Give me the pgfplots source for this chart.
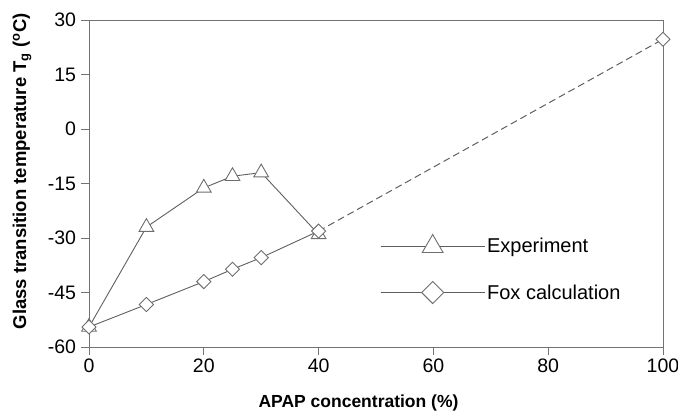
\documentclass[border=0pt]{standalone}
\usepackage{fontspec}
\setmainfont{Liberation Sans}
\usepackage{pgfplots}
\pgfplotsset{compat=1.18}

\definecolor{linegray}{RGB}{95,95,95}
\definecolor{markgray}{RGB}{110,110,110}
\definecolor{axisgray}{RGB}{115,115,115}

\begin{document}
\begin{tikzpicture}
\path[use as bounding box] (-89pt,-69pt) rectangle (589pt,347pt);
\begin{axis}[
    scale only axis,
    width=574pt, height=327pt,
    at={(0,0)}, anchor=south west,
    xmin=0, xmax=100, ymin=-60, ymax=30,
    xtick={0,20,...,100}, ytick={-60,-45,...,30},
    xtick pos=bottom, ytick pos=left,
    tick align=outside,
    major tick length=8pt,
    axis line style={axisgray, line width=0.8pt},
    major tick style={axisgray, line width=0.8pt},
    tick label style={font=\fontsize{19.5}{22}\selectfont, black},
    yticklabel style={xshift=-1.5pt},
    /pgf/number format/assume math mode=true,
    xlabel={APAP concentration (\%)},
    ylabel={Glass transition temperature T\textsubscript{g} (\textsuperscript{o}C)},
    xlabel style={font=\bfseries\fontsize{17.5}{20}\selectfont,
        at={(axis description cs:0.4695,-0.1713)}, anchor=center},
    ylabel style={font=\bfseries\fontsize{18.5}{21}\selectfont,
        at={(axis description cs:-0.1167,0.537)}, anchor=center},
    legend style={at={(axis description cs:0.507,0.2385)}, anchor=west, draw=none, fill=none,
        font=\fontsize{20}{23}\selectfont, row sep=25pt, inner sep=0pt,
        nodes={inner sep=2pt}},
    legend cell align=left,
    legend image code/.code={\draw[#1, mark repeat=2, mark phase=2]
        plot coordinates {(0pt,0pt)(52pt,0pt)(104pt,0pt)};},
]
% Experiment
\addplot[linegray, line width=0.9pt, mark=triangle*, mark size=8.5pt,
    mark options={fill=white, draw=markgray, solid}, forget plot] coordinates {
    (0,-54.5) (10,-27) (20,-16.2) (25,-13) (30,-12) (40,-29)
};
% Fox calculation (measured range)
\addplot[linegray, line width=0.9pt, mark=square*, mark size=5pt,
    mark options={fill=white, draw=markgray, rotate=45, solid}, forget plot] coordinates {
    (0,-54.5) (10,-48.3) (20,-42) (25,-38.6) (30,-35.4) (40,-28.1)
};
% Fox calculation extrapolated
\addplot[linegray, line width=1pt, dash pattern=on 7pt off 4pt, forget plot] coordinates {
    (40,-28.1) (100,24.7)
};
\addplot[only marks, mark=square*, mark size=5pt,
    mark options={fill=white, draw=markgray, line width=0.9pt, rotate=45}, forget plot] coordinates {
    (100,24.7)
};
\addlegendimage{linegray, line width=0.9pt, mark=triangle*, mark size=12pt,
    mark options={fill=white, draw=markgray}}
\addlegendentry{Experiment}
\addlegendimage{linegray, line width=0.9pt, mark=square*, mark size=7.8pt,
    mark options={fill=white, draw=markgray, rotate=45}}
\addlegendentry{Fox calculation}
\end{axis}
\end{tikzpicture}
\end{document}
